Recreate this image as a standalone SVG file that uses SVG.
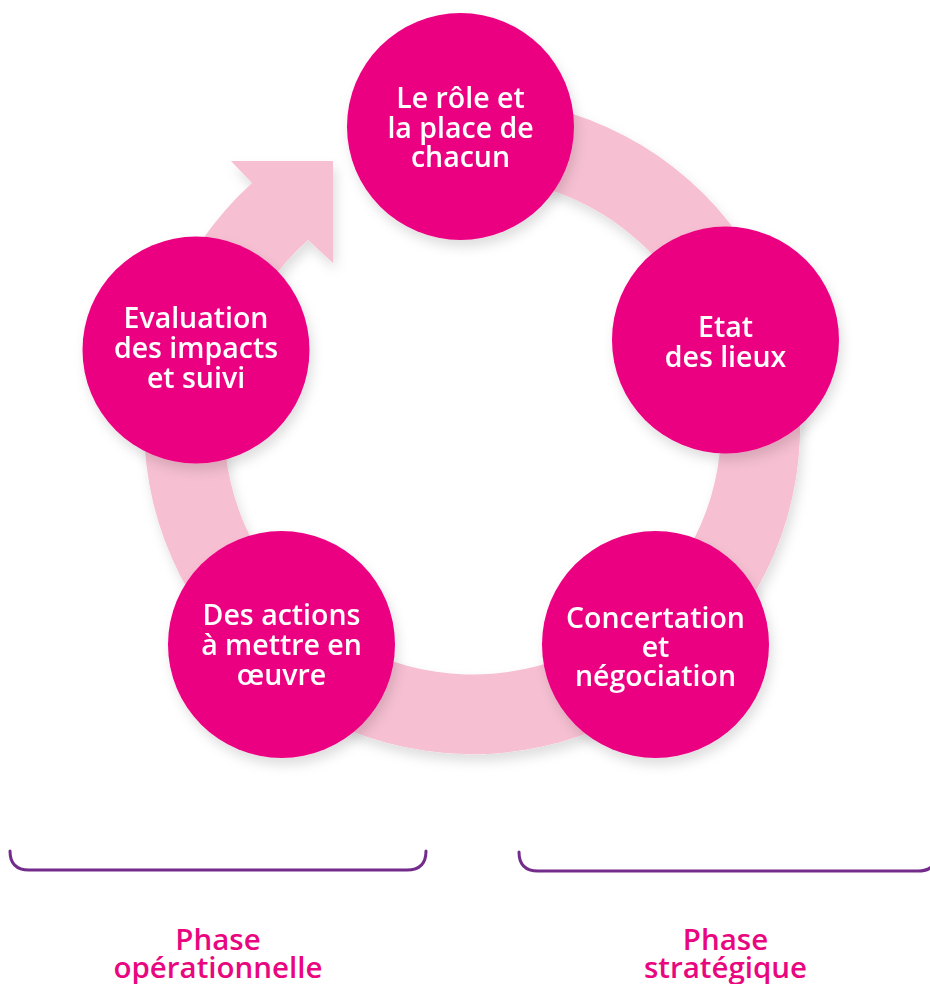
<svg xmlns="http://www.w3.org/2000/svg" width="930" height="984" viewBox="0 0 930 984">
  <defs>
    <filter id="soft" x="-20%" y="-20%" width="140%" height="140%">
      <feDropShadow dx="3" dy="7" stdDeviation="6" flood-color="#000" flood-opacity="0.13"/>
    </filter>
    <style>
      .ring { fill: #f6bfd2; }
      .step { fill: #ec0682; }
      .lbl { font-family: "Open Sans", "Liberation Sans", sans-serif; font-weight: 600; font-size: 28.5px; fill: #ffffff; text-anchor: middle; }
      .phase { font-family: "Open Sans", "Liberation Sans", sans-serif; font-weight: 600; font-size: 29.5px; fill: #e8077f; text-anchor: middle; }
      .brace { fill: none; stroke: #742c8c; stroke-width: 3; stroke-linecap: round; }
    </style>
  </defs>

  <rect width="930" height="984" fill="#ffffff"/>

  <!-- circular flow band ending in an arrowhead -->
  <g id="connectors">
    <path class="ring" filter="url(#soft)"
          d="M 416.0,103.0 A 328 328 0 1 1 252,183 L 231,161 L 333,161 L 333,263 L 308,240 A 248.5 248.5 0 1 0 429.85,181.3 Z"/>
  </g>

  <g id="step-role" filter="url(#soft)">
    <circle class="step" cx="460.5" cy="126.5" r="113.5"/>
    <text class="lbl" x="460.5" y="108">Le rôle et</text>
    <text class="lbl" x="460.5" y="138">la place de</text>
    <text class="lbl" x="460.5" y="167">chacun</text>
  </g>

  <g id="step-etat" filter="url(#soft)">
    <circle class="step" cx="725.5" cy="340" r="113.5"/>
    <text class="lbl" x="725.5" y="337">Etat</text>
    <text class="lbl" x="725.5" y="367">des lieux</text>
  </g>

  <g id="step-concertation" filter="url(#soft)">
    <circle class="step" cx="655.5" cy="644.5" r="113.5"/>
    <text class="lbl" x="655.5" y="628">Concertation</text>
    <text class="lbl" x="655.5" y="657">et</text>
    <text class="lbl" x="655.5" y="686">négociation</text>
  </g>

  <g id="step-actions" filter="url(#soft)">
    <circle class="step" cx="281.5" cy="644.5" r="113.5"/>
    <text class="lbl" x="281.5" y="625">Des actions</text>
    <text class="lbl" x="281.5" y="655">à mettre en</text>
    <text class="lbl" x="281.5" y="685">œuvre</text>
  </g>

  <g id="step-evaluation" filter="url(#soft)">
    <circle class="step" cx="196" cy="350" r="113.5"/>
    <text class="lbl" x="196" y="328">Evaluation</text>
    <text class="lbl" x="196" y="358">des impacts</text>
    <text class="lbl" x="196" y="388">et suivi</text>
  </g>

  <!-- phase brackets -->
  <g id="phase-operationnelle">
    <path class="brace" d="M 10,851 Q 10,870 29,870 L 407,870 Q 426,870 426,851"/>
    <text class="phase" x="218" y="950">Phase</text>
    <text class="phase" x="218" y="978">opérationnelle</text>
  </g>

  <g id="phase-strategique">
    <path class="brace" d="M 519,852 Q 519,871 538,871 L 918,871 Q 937,871 937,852"/>
    <text class="phase" x="725.5" y="950">Phase</text>
    <text class="phase" x="725.5" y="978">stratégique</text>
  </g>
</svg>
